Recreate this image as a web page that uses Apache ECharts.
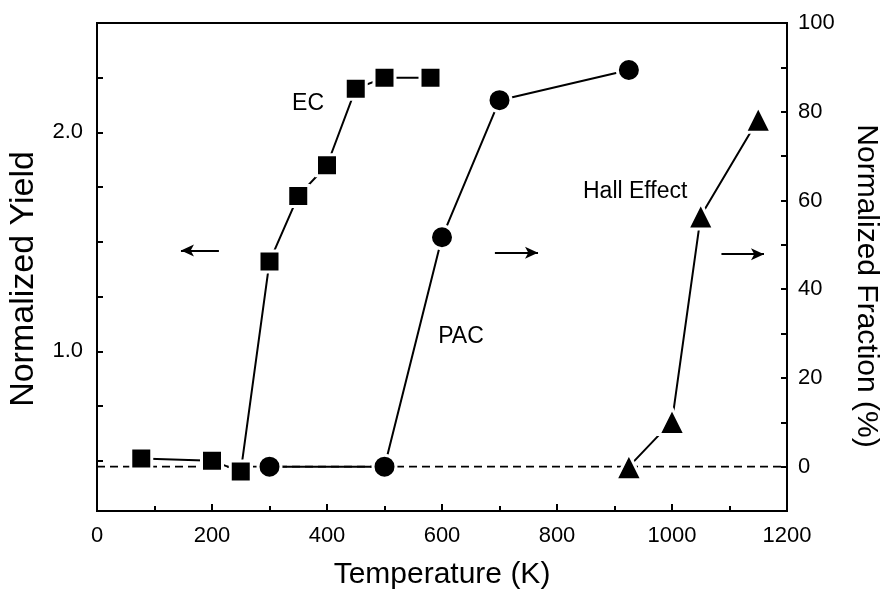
<!DOCTYPE html>
<html>
<head>
<meta charset="utf-8">
<script src="https://cdn.jsdelivr.net/npm/echarts@6/dist/echarts.min.js"></script>
<style>
  html, body { margin: 0; padding: 0; background: #fff; overflow: hidden; }
  #chart { width: 891px; height: 590px; }
</style>
</head>
<body>
<div id="chart"></div>
<script>
// Electron channeling yield (left axis), PAC and Hall-effect fractions (right axis) vs annealing temperature
const ecTemp = [77, 200, 250, 300, 350, 400, 450, 500, 580];
const ecYield = [0.51, 0.50, 0.45, 1.41, 1.71, 1.85, 2.20, 2.25, 2.25];

const pacTemp = [300, 500, 600, 700, 925];
const pacFraction = [0, 0, 51.7, 82.6, 89.4];

const hallTemp = [925, 1000, 1050, 1150];
const hallFraction = [0, 10.2, 56.5, 78.3];

const xTicks = [0, 200, 400, 600, 800, 1000, 1200];
const yieldLabels = [1.0, 2.0];
const yieldTicks = [0.5, 0.75, 1.0, 1.25, 1.5, 1.75, 2.0, 2.25];
const fractionLabels = [0, 20, 40, 60, 80, 100];

const FONT = '"Liberation Sans", Arial, Helvetica, sans-serif';
const INK = '#000';

const pairs = (xs, ys) => xs.map((x, i) => [x, ys[i]]);

const chart = echarts.init(document.getElementById('chart'), null, { renderer: 'canvas' });

const markerBase = {
  color: INK,
  borderColor: '#fff',
  borderWidth: 3
};

const noteLabel = { show: true, formatter: '{b}', fontFamily: FONT, fontSize: 23, color: INK };
const arrowLine = {
  silent: true,
  symbol: ['none', 'arrow'],
  symbolSize: [9, 13],
  label: { show: false },
  lineStyle: { color: INK, width: 2, type: 'solid' }
};

const option = {
  animation: false,
  backgroundColor: '#fff',
  grid: {
    left: 97, right: 104, top: 23, bottom: 79,
    outerBoundsMode: 'none',
    containLabel: false,
    show: true, borderColor: INK, borderWidth: 2, backgroundColor: 'transparent'
  },
  xAxis: {
    type: 'value',
    min: 0, max: 1200, interval: 200,
    name: 'Temperature (K)',
    nameLocation: 'middle',
    nameGap: 49,
    nameTextStyle: { fontFamily: FONT, fontSize: 30, color: INK },
    axisLine: { show: true, onZero: false, lineStyle: { color: INK, width: 2 } },
    axisTick: { show: true, inside: true, length: 7, lineStyle: { color: INK, width: 2 } },
    minorTick: { show: true, splitNumber: 2, length: 5, lineStyle: { color: INK, width: 2 } },
    splitLine: { show: false },
    axisLabel: {
      fontFamily: FONT, fontSize: 22, color: INK, margin: 14,
      customValues: xTicks,
      formatter: v => String(v)
    }
  },
  yAxis: [
    {
      type: 'value',
      position: 'left',
      min: 0.27, max: 2.5,
      name: 'Normalized Yield',
      nameLocation: 'middle',
      nameGap: 56,
      nameRotate: 90,
      nameTextStyle: { fontFamily: FONT, fontSize: 34, color: INK, padding: [0, 24, 0, 0] },
      axisLine: { show: true, onZero: false, lineStyle: { color: INK, width: 2 } },
      axisTick: {
        show: true, inside: true, length: 6,
        lineStyle: { color: INK, width: 2 },
        customValues: yieldTicks
      },
      splitLine: { show: false },
      axisLabel: {
        fontFamily: FONT, fontSize: 22, color: INK, margin: 14,
        customValues: yieldLabels,
        formatter: v => v.toFixed(1)
      }
    },
    {
      type: 'value',
      position: 'right',
      min: -10, max: 100, interval: 10,
      name: 'Normalized Fraction (%)',
      nameLocation: 'middle',
      nameGap: 64,
      nameRotate: -90,
      nameTextStyle: { fontFamily: FONT, fontSize: 30, color: INK, padding: [0, 0, 0, 38] },
      axisLine: { show: true, onZero: false, lineStyle: { color: INK, width: 2 } },
      axisTick: { show: true, inside: true, length: 6, lineStyle: { color: INK, width: 2 } },
      splitLine: { show: false },
      axisLabel: {
        fontFamily: FONT, fontSize: 22, color: INK, margin: 11,
        customValues: fractionLabels
      }
    }
  ],
  series: [
    {
      name: 'baseline',
      type: 'line',
      yAxisIndex: 1,
      data: [[0, 0], [1200, 0]],
      symbol: 'none',
      lineStyle: { color: INK, width: 1.8, type: [8, 5] },
      z: 1,
      silent: true
    },
    {
      name: 'EC',
      type: 'line',
      yAxisIndex: 0,
      data: pairs(ecTemp, ecYield),
      symbol: 'rect',
      symbolSize: 21,
      lineStyle: { color: INK, width: 2 },
      itemStyle: markerBase,
      z: 3,
      markPoint: {
        symbol: 'circle', symbolSize: 0,
        label: noteLabel,
        data: [{ name: 'EC', coord: [367, 2.13] }]
      },
      markLine: Object.assign({}, arrowLine, {
        data: [[{ coord: [212, 1.46] }, { coord: [146, 1.46] }]]
      })
    },
    {
      name: 'PAC',
      type: 'line',
      yAxisIndex: 1,
      data: pairs(pacTemp, pacFraction),
      symbol: 'circle',
      symbolSize: 23,
      lineStyle: { color: INK, width: 2 },
      itemStyle: markerBase,
      z: 3,
      markPoint: {
        symbol: 'circle', symbolSize: 0,
        label: noteLabel,
        data: [{ name: 'PAC', coord: [633, 29.4] }]
      },
      markLine: Object.assign({}, arrowLine, {
        data: [[{ coord: [692, 48.2] }, { coord: [767, 48.2] }]]
      })
    },
    {
      name: 'Hall Effect',
      type: 'line',
      yAxisIndex: 1,
      data: pairs(hallTemp, hallFraction),
      symbol: 'triangle',
      symbolSize: 26,
      lineStyle: { color: INK, width: 2 },
      itemStyle: markerBase,
      z: 3,
      markPoint: {
        symbol: 'circle', symbolSize: 0,
        label: noteLabel,
        data: [{ name: 'Hall Effect', coord: [936, 61.9] }]
      },
      markLine: Object.assign({}, arrowLine, {
        data: [[{ coord: [1086, 47.9] }, { coord: [1160, 47.9] }]]
      })
    }
  ]
};

chart.setOption(option);
</script>
</body>
</html>
